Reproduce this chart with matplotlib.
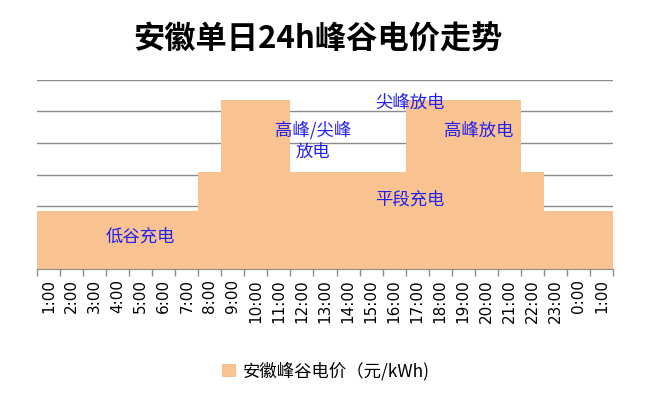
import matplotlib
matplotlib.use("Agg")
import matplotlib.pyplot as plt
import numpy as np

plt.rcParams["font.family"] = ["Noto Sans CJK SC", "DejaVu Sans"]

# ── data ───────────────────────────────────────────────────────────────
hours = ["1:00", "2:00", "3:00", "4:00", "5:00", "6:00", "7:00", "8:00",
         "9:00", "10:00", "11:00", "12:00", "13:00", "14:00", "15:00",
         "16:00", "17:00", "18:00", "19:00", "20:00", "21:00", "22:00",
         "23:00", "0:00", "1:00"]
VALLEY, FLAT, PEAK = 0.369, 0.616, 1.072
prices = [VALLEY] * 7 + [FLAT] + [PEAK] * 3 + [FLAT] * 5 + [PEAK] * 5 + [FLAT] + [VALLEY] * 3

notes = ["低谷充电", "高峰/尖峰\n放电", "尖峰放电", "高峰放电", "平段充电"]
note_x = [4.0, 11.48, 15.67, 18.66, 15.67]
note_y = [0.206, 0.812, 1.054, 0.875, 0.439]

BAR_COLOUR  = "#F9C391"
NOTE_COLOUR = "#2020F0"
GRID_COLOUR = "#8C8C8C"

fig = plt.figure(figsize=(6.55, 3.94), dpi=100)
ax = fig.add_axes([37 / 655, 1 - 269.3 / 394, 576 / 655, (269.3 - 79.8) / 394])

x = np.arange(len(hours))
ax.bar(x, prices, width=1.0, color=BAR_COLOUR, linewidth=0,
       label="安徽峰谷电价（元/kWh)", zorder=2)

ax.set_xlim(-0.5, len(hours) - 0.5)
ax.set_ylim(0, 1.2)
ax.set_yticks(np.arange(0, 1.21, 0.2))
ax.yaxis.grid(True, color=GRID_COLOUR, linewidth=1)
ax.set_axisbelow(True)
ax.tick_params(axis="y", left=False, labelleft=False)

ax.set_xticks(x)
ax.set_xticklabels(hours, rotation=90, fontsize=11, family="DejaVu Sans")
ax.set_xticks(np.arange(-0.5, len(hours)), minor=True)
ax.tick_params(axis="x", which="major", length=0, pad=7)
ax.tick_params(axis="x", which="minor", length=5, color=GRID_COLOUR, width=1)

for side in ["top", "right", "left"]:
    ax.spines[side].set_visible(False)
ax.spines["bottom"].set_color(GRID_COLOUR)
ax.spines["bottom"].set_zorder(3)

for txt, tx, ty in zip(notes, note_x, note_y):
    ax.text(tx, ty, txt, color=NOTE_COLOUR, fontsize=12.5, ha="center",
            va="center", linespacing=1.25, zorder=4)

fig.text(318 / 655, 1 - 40 / 394, "安徽单日24h峰谷电价走势", fontsize=22.5,
         fontweight="bold", ha="center", va="center")

handles, lbls = ax.get_legend_handles_labels()
fig.legend(handles, lbls, loc="center", bbox_to_anchor=(326 / 655, 1 - 371 / 394),
           frameon=False, fontsize=12.5, handlelength=0.8, handleheight=0.8,
           handletextpad=0.4)

fig.savefig("out.png", dpi=100)
